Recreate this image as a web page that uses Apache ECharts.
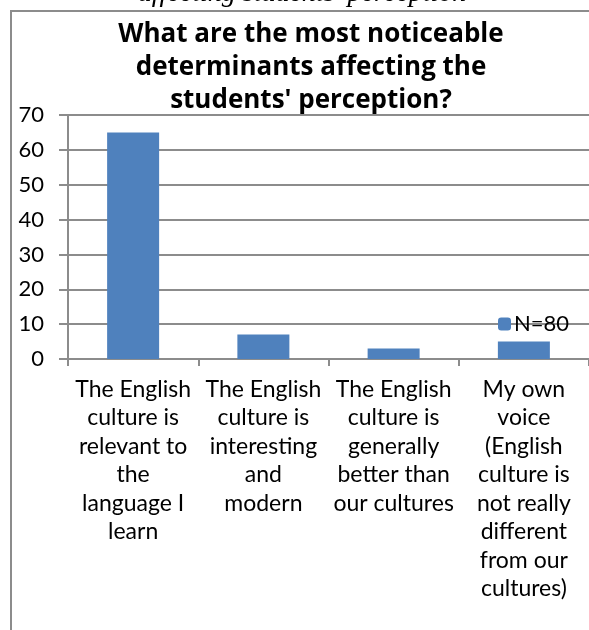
<!DOCTYPE html>
<html>
<head>
<meta charset="utf-8">
<script src="https://cdn.jsdelivr.net/npm/echarts@6/dist/echarts.min.js"></script>
<style>
  html, body { margin: 0; padding: 0; background: #fff; }
  #chart { width: 589px; height: 630px; }
</style>
</head>
<body>
<div id="chart"></div>
<script>
var categories = [
  'The English\nculture is\nrelevant to\nthe\nlanguage I\nlearn',
  'The English\nculture is\ninteresting\nand\nmodern',
  'The English\nculture is\ngenerally\nbetter than\nour cultures',
  'My own\nvoice\n(English\nculture is\nnot really\ndifferent\nfrom our\ncultures)'
];
var values = [65, 7, 3, 5];
var seriesName = 'N=80';
var yTicks = [0, 10, 20, 30, 40, 50, 60, 70];

var gray = '#8c8c8c';
var font = 'Lato, "Open Sans", sans-serif';

var chart = echarts.init(document.getElementById('chart'));
chart.setOption({
  backgroundColor: '#fff',
  animation: false,
  title: {
    text: 'What are the most noticeable\ndeterminants affecting the\nstudents\' perception?',
    left: 306,
    top: 13,
    textAlign: 'center',
    textStyle: {
      fontFamily: '"Open Sans", sans-serif',
      fontSize: 26,
      fontWeight: 'bold',
      color: '#000',
      lineHeight: 33
    }
  },
  graphic: [
    {
      type: 'rect',
      shape: { x: 11, y: 11, width: 700, height: 700 },
      style: { fill: 'none', stroke: gray, lineWidth: 2 },
      silent: true
    },
    {
      type: 'text',
      x: 302,
      y: -6,
      style: {
        text: 'affecting students\' perception',
        font: 'italic 28px "Liberation Serif", serif',
        fill: '#000',
        align: 'center',
        verticalAlign: 'middle'
      },
      silent: true
    }
  ],
  legend: {
    data: [seriesName],
    left: 498,
    top: 313,
    padding: 0,
    itemWidth: 13,
    itemHeight: 13,
    itemGap: 6,
    textStyle: { fontFamily: font, fontSize: 22, color: '#000', padding: [0, 0, 0, -2] }
  },
  grid: {
    left: 68,
    top: 115,
    width: 531,
    height: 244,
    containLabel: false
  },
  xAxis: {
    type: 'category',
    data: categories,
    axisLine: { lineStyle: { color: gray, width: 2 } },
    axisTick: { show: true, length: 7, lineStyle: { color: gray, width: 2 } },
    axisLabel: {
      interval: 0,
      margin: 16,
      fontFamily: font,
      fontSize: 23,
      lineHeight: 28.5,
      color: '#000'
    }
  },
  yAxis: {
    type: 'value',
    min: yTicks[0],
    max: yTicks[yTicks.length - 1],
    interval: 10,
    axisLine: { show: true, lineStyle: { color: gray, width: 2 } },
    axisTick: { show: true, length: 9, lineStyle: { color: gray, width: 2 } },
    splitLine: { lineStyle: { color: gray, width: 2 } },
    axisLabel: {
      margin: 24,
      fontFamily: font,
      fontSize: 22,
      color: '#000'
    }
  },
  series: [{
    name: seriesName,
    type: 'bar',
    data: values,
    barWidth: 52,
    itemStyle: { color: '#4f81bd' }
  }]
});
</script>
</body>
</html>
